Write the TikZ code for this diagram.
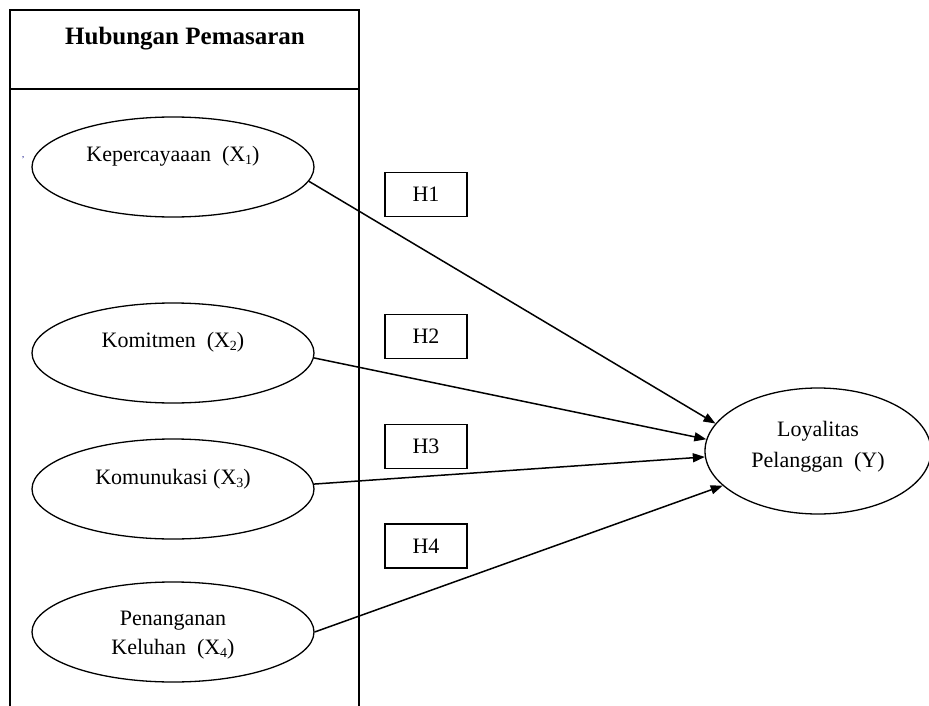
\documentclass[tikz,border=0pt]{standalone}
\usepackage{fontspec}
\setmainfont{Liberation Serif}
\usetikzlibrary{arrows.meta,shapes.geometric}
\newcommand\vsub[1]{\raisebox{-0.3ex}{\fontsize{14}{15}\selectfont #1}}
\begin{document}
\begin{tikzpicture}[x=1pt,y=-1pt,
  latent/.style={draw, ellipse, line width=1.3pt, minimum width=282pt, minimum height=100pt, inner sep=0pt},
  lbl/.style={font=\fontsize{22}{26}\selectfont, anchor=base, inner sep=0pt},
  hbox/.style={draw, line width=1.5pt, minimum width=82pt, minimum height=44pt, inner sep=0pt, font=\fontsize{22}{26}\selectfont},
  link/.style={line width=1.5pt, -{Triangle[length=12pt,width=9pt]}},
  frame/.style={line width=1.5pt}
]
\useasboundingbox (0,0) rectangle (929,706);
% outer frame (open at the bottom)
\coordinate (fbl) at (10,706);
\coordinate (ftl) at (10,10);
\coordinate (ftr) at (359,10);
\coordinate (fbr) at (359,706);
\coordinate (hl) at (10,89);
\coordinate (hr) at (359,89);
\draw[frame] (fbl) -- (ftl) -- (ftr) -- (fbr);
\draw[frame] (hl) -- (hr);
\node[lbl, font=\bfseries\fontsize{25}{30}\selectfont] (title) at (185,45) {Hubungan Pemasaran};
\node[font=\fontsize{9}{10}\selectfont, text=blue!50!black, inner sep=0pt] (tick) at (23,160) {'};
% independent variables
\node[latent] (x1) at (173,167) {};
\node[lbl] (t1) at (173,161) {Kepercayaaan~~(X\vsub{1})};
\node[latent] (x2) at (173,353) {};
\node[lbl] (t2) at (173,347) {Komitmen~~(X\vsub{2})};
\node[latent] (x3) at (173,489) {};
\node[lbl] (t3) at (173,484) {Komunukasi (X\vsub{3})};
\node[latent] (x4) at (173,632) {};
\node[lbl] (t4a) at (173,625) {Penanganan};
\node[lbl] (t4b) at (173,654) {Keluhan~~(X\vsub{4})};
% dependent variable
\node[draw, ellipse, line width=1.3pt, minimum width=226pt, minimum height=126pt, inner sep=0pt] (y) at (818,451) {};
\node[lbl] (ty1) at (818,436) {Loyalitas};
\node[lbl] (ty2) at (818,467) {Pelanggan~~(Y)};
% hypotheses
\node[hbox] (h1) at (426,194.5) {H1};
\node[hbox] (h2) at (426,336.5) {H2};
\node[hbox] (h3) at (426,446.5) {H3};
\node[hbox] (h4) at (426,546) {H4};
% arrows
\draw[link] (x1.-6.5) -- (y.165);
\draw[link] (x2.-2.4) -- (y.174.5);
\draw[link] (x3.2) -- (y.183);
\draw[link] (x4.0) -- (y.200);
\end{tikzpicture}
\end{document}
